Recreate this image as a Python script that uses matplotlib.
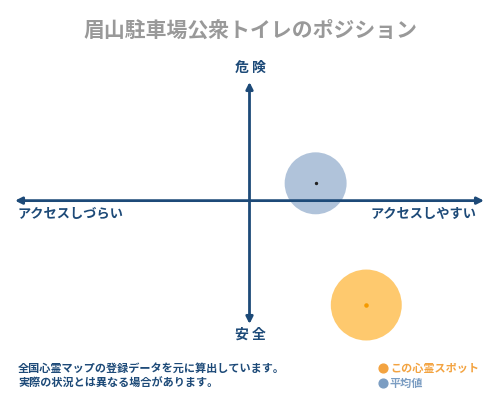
import matplotlib.pyplot as plt

plt.rcParams['font.family'] = ['Noto Sans CJK JP', 'DejaVu Sans']

# chart data
title = '眉山駐車場公衆トイレのポジション'
spot_x = [2.49]     # この心霊スポット (access)
spot_y = [-4.4]     # (danger)
avg_x = [1.41]      # 平均値
avg_y = [0.73]
x_labels = ['アクセスしづらい', 'アクセスしやすい']
y_labels = ['危 険', '安 全']
legend_labels = ['この心霊スポット', '平均値']
notes = ['全国心霊マップの登録データを元に算出しています。',
         '実際の状況とは異なる場合があります。']

navy = '#1d4a78'
orange = '#fec96e'
blue = '#b0c3da'

fig = plt.figure(figsize=(5, 4), dpi=100)
ax = fig.add_axes([0.03, 0.19, 0.938, 0.605])
ax.set_xlim(-5, 5)
ax.set_ylim(-5.2, 5)
ax.axis('off')

# axes arrows
arrow = dict(arrowstyle='<|-|>', color=navy, lw=2, mutation_scale=10,
             shrinkA=0, shrinkB=0)
ax.annotate('', xy=(5, 0), xytext=(-5, 0), arrowprops=arrow, zorder=5)
ax.annotate('', xy=(0, 5), xytext=(0, -5.2), arrowprops=arrow, zorder=5)

# circles
ax.scatter(avg_x, avg_y, s=1990, color=blue, edgecolors='none', zorder=2, clip_on=False)
ax.scatter(avg_x, avg_y, s=2, color='#222222', zorder=6, clip_on=False)
ax.scatter(spot_x, spot_y, s=2610, color=orange, edgecolors='none', zorder=2, clip_on=False)
ax.scatter(spot_x, spot_y, s=5, color='#f59a00', zorder=6, clip_on=False)

# texts
fig.text(0.5, 0.925, title, ha='center', va='center', fontsize=15,
         fontweight='bold', color='#999999')
fig.text(0.5, 0.83, y_labels[0], ha='center', va='center', fontsize=10,
         fontweight='bold', color=navy)
fig.text(0.5, 0.1625, y_labels[1], ha='center', va='center', fontsize=10,
         fontweight='bold', color=navy)
fig.text(0.036, 0.465, x_labels[0], ha='left', va='center', fontsize=9.5,
         fontweight='bold', color=navy)
fig.text(0.954, 0.465, x_labels[1], ha='right', va='center', fontsize=9.5,
         fontweight='bold', color=navy)

fig.text(0.036, 0.08, notes[0], ha='left', va='center', fontsize=8,
         fontweight='bold', color=navy)
fig.text(0.036, 0.0425, notes[1], ha='left', va='center', fontsize=8,
         fontweight='bold', color=navy)

# legend
ax.scatter([0.766], [0.08], s=40, color='#f3a340', transform=fig.transFigure, clip_on=False)
ax.scatter([0.766], [0.0425], s=40, color='#7b9dc2', transform=fig.transFigure, clip_on=False)
fig.text(0.78, 0.08, legend_labels[0], ha='left', va='center', fontsize=8,
         fontweight='bold', color='#f3a340')
fig.text(0.78, 0.0425, legend_labels[1], ha='left', va='center', fontsize=8,
         fontweight='bold', color='#7b9dc2')

fig.savefig('out.png', dpi=100, facecolor='white')
